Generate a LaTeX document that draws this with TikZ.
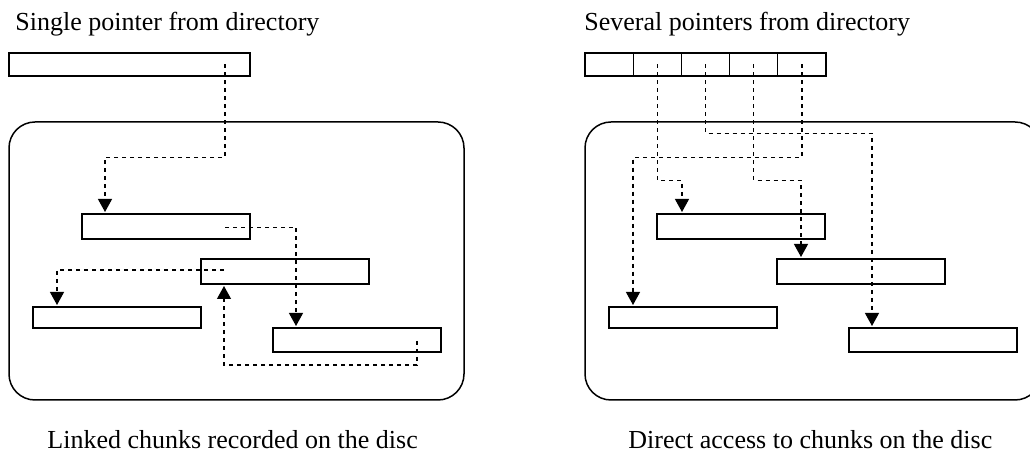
\documentclass[tikz,border=0pt]{standalone}
\usepackage{fontspec}
\setmainfont{Liberation Serif}
\usetikzlibrary{arrows.meta,calc}
\begin{document}
\begin{tikzpicture}[x=0.5pt, y=-0.5pt,
    every node/.style={font=\fontsize{13}{15}\selectfont},
    caption/.style={anchor=base west, inner sep=0pt},
    chunk/.style={draw, line width=0.65pt, inner sep=0pt, outer sep=0pt, anchor=north west,
      minimum width=84pt, minimum height=12.5pt},
    cell/.style={draw, line width=0.65pt, inner sep=0pt, outer sep=0pt, anchor=north west,
      minimum width=24.1pt, minimum height=11.5pt},
    disc/.style={line width=0.75pt, rounded corners=13pt},
    ptr/.style={line width=0.6pt, dash pattern=on 2pt off 2pt, -{Triangle[width=7pt,length=6.5pt]}, shorten >=1pt}]
  \useasboundingbox (0,0) rectangle (1030,453);
  \clip (0,0) rectangle (1030,453);
  % left: linked chunks
  \node[caption] (ltitle) at (15,31) {Single pointer from directory};
  \node[chunk, minimum width=120.5pt, minimum height=11.5pt] (dir) at (9,53) {};
  \draw[disc] (9,122) rectangle (464,400);
  \node[chunk] (A) at (82,214) {};
  \node[chunk] (B) at (201,259) {};
  \node[chunk, minimum height=10.5pt] (C) at (33,307) {};
  \node[chunk, minimum height=12pt] (D) at (273,328) {};
  \draw[ptr] ($(dir.east)+(-25,0)$) -- ++(0,93) -| ($(A.north west)+(23,0)$);
  \draw[ptr] ($(A.east)+(-25,1)$) -| ($(D.north west)+(23,0)$);
  \draw[ptr] ($(B.west)+(23,-1.5)$) -| ($(C.north west)+(24,0)$);
  \draw[ptr] ($(D.east)+(-24,1)$) -- ++(0,24) -| ($(B.south west)+(23,0)$);
  \node[caption] (lcap) at (47,449) {Linked chunks recorded on the disc};
  % right: direct access
  \node[caption] (rtitle) at (584,31) {Several pointers from directory};
  \foreach \i in {0,...,4}
    \node[cell] (c\i) at ({585+48.2*\i},53) {};
  \draw[disc] (585,122) rectangle (1041,400);
  \node[chunk] (R1) at (657,214) {};
  \node[chunk] (R2) at (777,259) {};
  \node[chunk, minimum height=10.5pt] (R3) at (609,307) {};
  \node[chunk, minimum height=12pt] (R4) at (849,328) {};
  \draw[ptr] (c1.center) -- ++(0,116) -| ($(R1.north west)+(25,0)$);
  \draw[ptr] (c2.center) -- ++(0,69) -| ($(R4.north west)+(23,0)$);
  \draw[ptr] (c3.center) -- ++(0,116) -| ($(R2.north west)+(24,0)$);
  \draw[ptr] (c4.center) -- ++(0,93) -| ($(R3.north west)+(24,0)$);
  \node[caption] (rcap) at (628,449) {Direct access to chunks on the disc};
\end{tikzpicture}
\end{document}
